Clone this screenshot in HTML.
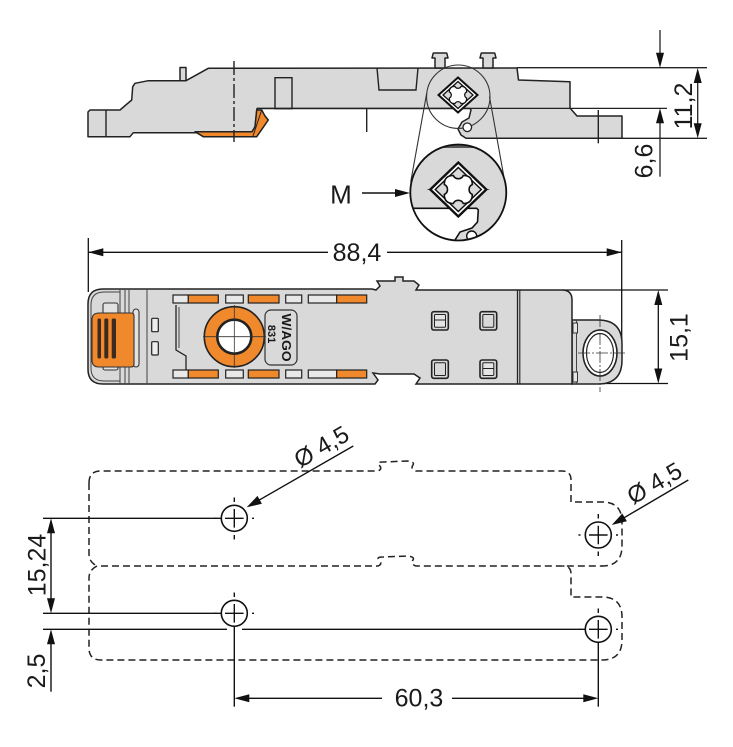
<!DOCTYPE html>
<html><head><meta charset="utf-8"><style>
html,body{margin:0;padding:0;background:#fff;}
svg{display:block;}
text{font-family:"Liberation Sans",Arial,sans-serif;fill:#1a1a1a;}
</style></head><body>
<svg width="733" height="747" viewBox="0 0 733 747" xmlns="http://www.w3.org/2000/svg">
<defs>
<clipPath id="bigc"><circle cx="458.3" cy="192.5" r="48"/></clipPath>
</defs>
<rect width="733" height="747" fill="#fff"/>

<!-- ============ SIDE VIEW ============ -->
<g stroke="#222" stroke-width="1.5" stroke-linejoin="round">
<rect x="180" y="67.5" width="6" height="14" fill="#d9d9d9"/>
<path d="M88,112 L90,110 L120,110 L131.7,100 L132.7,86.7 L135,83.3 L148.3,80.7 L186,80.7 L208.3,68.3 L517,68 L518.5,80 L570,81.7 L570,108 L577,116 L622,116 L622,138.3 L466,138.3 L461,135 L458,129 L462,122 L469,118 L471,110 L470,108.5 L257,108.5 L255,127 L252,132.7 L133.3,132.7 L130,136.7 L88,136.7 Z" fill="#d9d9d9"/>
<path d="M195,131.7 L203.3,136.7 L256.7,136.7 L268.3,120 L265,116 L261.7,110 L256.7,110 L255,126.7 L252,131.7 Z" fill="#f0882c"/>
<path d="M261.7,110 L253,136" fill="none" stroke-width="1"/>
<!-- pins -->
<path d="M432,58 L433,54 Q433,53 434,53 L446,53 Q447,53 447,54 L448,58 L445,58 L445,68 L435,68 L435,58 Z" fill="#d9d9d9"/>
<path d="M480,58 L481,54 Q481,53 482,53 L494,53 Q495,53 495,54 L496,58 L493,58 L493,68 L483,68 L483,58 Z" fill="#d9d9d9"/>
</g>
<g stroke="#222" stroke-width="1.4" fill="none">
<path d="M377,68 L379,90 L416,90 L418,68"/>
<rect x="275" y="77.7" width="17" height="31"/>
<line x1="106" y1="110" x2="106" y2="136.7"/>
<line x1="366.7" y1="108.5" x2="366.7" y2="132"/>
<line x1="598.3" y1="110" x2="598.3" y2="143.3"/>
<line x1="234" y1="61" x2="234" y2="142" stroke-dasharray="14 3 3 3"/>
<!-- extension lines -->
<line x1="517" y1="67.7" x2="707" y2="67.7" stroke-width="1.3"/>
<line x1="622" y1="138.3" x2="707" y2="138.3" stroke-width="1.3"/>
<line x1="257" y1="108.4" x2="667" y2="108.4" stroke-width="1.3"/>
<!-- dims -->
<line x1="697.7" y1="75" x2="697.7" y2="131" stroke-width="1.3"/>
<line x1="660" y1="30" x2="660" y2="55" stroke-width="1.3"/>
<line x1="660" y1="120" x2="660" y2="176.7" stroke-width="1.3"/>
</g>
<g fill="#111">
<polygon points="697.7,68 693.7,83 701.7,83"/>
<polygon points="697.7,138.3 693.7,123.3 701.7,123.3"/>
<polygon points="660,67.7 656,52.7 664,52.7"/>
<polygon points="660,108.3 656,123.3 664,123.3"/>
</g>
<text transform="translate(683,106) rotate(-90)" y="9" font-size="25" text-anchor="middle">11,2</text>
<text transform="translate(643.3,161) rotate(-90)" y="9" font-size="25" text-anchor="middle">6,6</text>

<!-- small detail circle -->
<circle cx="458.3" cy="96.7" r="31.7" fill="none" stroke="#333" stroke-width="1.1"/>
<g transform="translate(458,95)">
<polygon points="-19.5,0 0,-17.5 19.5,0 0,17.5" fill="#fff" stroke="#111" stroke-width="2"/>
<polygon points="-15,0 0,-13.5 15,0 0,13.5" fill="#d9d9d9" stroke="#111" stroke-width="1.3"/>
<path transform="scale(0.62)" d="M-5,-14 A5.5,5.5 0 0 0 5,-14 Q14,-14 14,-5 A5.5,5.5 0 0 0 14,5 Q14,14 5,14 A5.5,5.5 0 0 0 -5,14 Q-14,14 -14,5 A5.5,5.5 0 0 0 -14,-5 Q-14,-14 -5,-14 Z" fill="#fff" stroke="#111" stroke-width="2"/>
</g>
<circle cx="467.3" cy="127.3" r="4.3" fill="#fff" stroke="#222" stroke-width="1.3"/>
<!-- tangent lines -->
<line x1="426.7" y1="93.3" x2="410.7" y2="182" stroke="#333" stroke-width="1.1"/>
<line x1="489.5" y1="96.7" x2="505" y2="183" stroke="#333" stroke-width="1.1"/>

<!-- big detail circle -->
<circle cx="458.3" cy="192.5" r="48" fill="#fff"/>
<g clip-path="url(#bigc)">
<path d="M405,140 L512,140 L512,245 L452,245 L455,240 L460,232 L472,228 L477.5,222 L478.3,210 L476.7,208.3 L405,208.3 Z" fill="#d9d9d9"/>
<line x1="438" y1="146.5" x2="477" y2="146.5" stroke="#555" stroke-width="3"/>
<path d="M405,208.3 L476.7,208.3 L478.3,210 L477.5,222 L472,228 L460,232 L455,240 L452,246" fill="none" stroke="#111" stroke-width="1.6"/>
<circle cx="471.7" cy="236" r="5" fill="#fff" stroke="#111" stroke-width="1.4"/>
</g>
<circle cx="458.3" cy="192.5" r="48" fill="none" stroke="#111" stroke-width="1.8"/>
<g transform="translate(458.3,189.5)">
<line x1="-31" y1="0" x2="31" y2="0" stroke="#333" stroke-width="0.8"/>
<polygon points="-28,0 0,-27 28,0 0,27" fill="#fff" stroke="#111" stroke-width="2.4"/>
<polygon points="-23,0 0,-22 23,0 0,22" fill="#d9d9d9" stroke="#111" stroke-width="1.5"/>
<path d="M-5,-14 A5.5,5.5 0 0 0 5,-14 Q14,-14 14,-5 A5.5,5.5 0 0 0 14,5 Q14,14 5,14 A5.5,5.5 0 0 0 -5,14 Q-14,14 -14,5 A5.5,5.5 0 0 0 -14,-5 Q-14,-14 -5,-14 Z" fill="#fff" stroke="#111" stroke-width="1.6"/>
</g>
<!-- M arrow -->
<text x="341" y="203.3" font-size="26" text-anchor="middle">M</text>
<line x1="362" y1="193" x2="397" y2="193" stroke="#111" stroke-width="1.5"/>
<polygon points="410,193 395,189 395,197" fill="#111"/>

<!-- ============ TOP VIEW ============ -->
<g stroke="#111" stroke-width="1.3" fill="none">
<line x1="88.3" y1="238" x2="88.3" y2="292"/>
<line x1="621.7" y1="240" x2="621.7" y2="345"/>
<line x1="88.3" y1="252.3" x2="328" y2="252.3"/>
<line x1="387" y1="252.3" x2="621.7" y2="252.3"/>
<line x1="562" y1="290" x2="668" y2="290"/>
<line x1="600" y1="383.5" x2="668" y2="383.5"/>
<line x1="658.3" y1="300" x2="658.3" y2="374"/>
</g>
<g fill="#111">
<polygon points="88.3,252.3 103.3,248.3 103.3,256.3"/>
<polygon points="621.7,252.3 606.7,248.3 606.7,256.3"/>
<polygon points="658.3,290 654.3,305 662.3,305"/>
<polygon points="658.3,383.5 654.3,368.5 662.3,368.5"/>
</g>
<text x="357" y="261" font-size="25" text-anchor="middle">88,4</text>
<text transform="translate(678.3,337.5) rotate(-90)" y="9" font-size="25" text-anchor="middle">15,1</text>

<!-- tab -->
<path d="M572,320 L598,320 Q622,320 622,344 L622,360 Q622,384 598,384 L572,384 Z" fill="#d9d9d9" stroke="#222" stroke-width="1.5"/>
<line x1="576.5" y1="320" x2="576.5" y2="384" stroke="#444" stroke-width="1"/>
<rect x="573" y="323" width="4.5" height="10" fill="#e5e5e5" stroke="#333" stroke-width="1"/>
<rect x="573" y="372" width="4.5" height="10" fill="#e5e5e5" stroke="#333" stroke-width="1"/>
<ellipse cx="600" cy="353" rx="17" ry="23" fill="#fff" stroke="#222" stroke-width="1.6"/>
<ellipse cx="600" cy="353" rx="13.5" ry="19.5" fill="#fff" stroke="#222" stroke-width="1.2"/>
<line x1="600" y1="315" x2="600" y2="392" stroke="#333" stroke-width="0.8" stroke-dasharray="12 2 2 2"/>
<line x1="578" y1="353" x2="625" y2="353" stroke="#333" stroke-width="0.8" stroke-dasharray="12 2 2 2"/>

<!-- body -->
<path d="M103,289 L372,289 L376,290 L380,286 L377,281 L395,281 L395,277 L403,277 L403,281 L414,281 L419,285 L416,290 L562,290 Q572,290 572,300 L572,384 L416,384 L420,378 L414,374 L380,374 L373,373 L378,380 L375,384 L103,384 Q88,384 88,369 L88,304 Q88,289 103,289 Z" fill="#d9d9d9" stroke="#222" stroke-width="1.5"/>
<g stroke="#444" stroke-width="1" fill="none">
<path d="M120,292 L104,292 Q91,292 91,305 L91,368 Q91,381 104,381 L120,381"/>
<line x1="120" y1="289" x2="120" y2="384"/>
<line x1="125" y1="289" x2="125" y2="384"/>
<line x1="129" y1="289" x2="129" y2="384"/>
<line x1="147" y1="289" x2="147" y2="384"/>
<line x1="517.5" y1="290" x2="517.5" y2="384" stroke="#222" stroke-width="1.3"/>
<line x1="519.8" y1="290" x2="519.8" y2="384" stroke="#222" stroke-width="1.1"/>
<path d="M176,305 L176,350 L186,356 L186,372" stroke="#222" stroke-width="1.3"/>
<path d="M179,307 L179,348"/>
</g>
<!-- latch -->
<rect x="103" y="303" width="15" height="11" rx="2" fill="#e2e2e2" stroke="#333" stroke-width="1.1"/>
<rect x="103" y="359" width="15" height="11" rx="2" fill="#e2e2e2" stroke="#333" stroke-width="1.1"/>
<rect x="133" y="309" width="6" height="58" rx="3" fill="#e2e2e2" stroke="#333" stroke-width="1.1"/>
<path d="M99,313 L131,313 Q134,313 134,316 L134,364 Q134,367 131,367 L99,367 Q92,367 92,360 L92,320 Q92,313 99,313 Z" fill="#f0882c" stroke="#333" stroke-width="1.1"/>
<g fill="#3b2a20">
<rect x="97.5" y="318.5" width="3.5" height="40" rx="1.5"/>
<rect x="104.3" y="318.5" width="4" height="40" rx="1.5"/>
<rect x="111.7" y="318.5" width="4.3" height="40" rx="1.5"/>
</g>
<rect x="151.7" y="318.3" width="6.6" height="13.4" rx="1" fill="#eee" stroke="#222" stroke-width="1.2"/>
<rect x="151.7" y="341.7" width="6.6" height="13.3" rx="1" fill="#eee" stroke="#222" stroke-width="1.2"/>

<!-- slots -->
<g stroke="#222" stroke-width="1.2">
<rect x="173" y="295" width="15.3" height="8" fill="#e8e8e8"/>
<rect x="188.3" y="295" width="30" height="8" fill="#f0882c"/>
<rect x="225.7" y="295" width="17.6" height="8" fill="#e8e8e8"/>
<rect x="248.3" y="295" width="30.7" height="8" fill="#f0882c"/>
<rect x="285.7" y="295" width="16" height="8" fill="#e8e8e8"/>
<rect x="308.3" y="295" width="28.4" height="8" fill="#e8e8e8"/>
<rect x="336.7" y="295" width="30" height="8" fill="#f0882c"/>
<rect x="173" y="370" width="15.3" height="8" fill="#e8e8e8"/>
<rect x="188.3" y="370" width="30" height="8" fill="#f0882c"/>
<rect x="225.7" y="370" width="17.6" height="8" fill="#e8e8e8"/>
<rect x="248.3" y="370" width="30.7" height="8" fill="#f0882c"/>
<rect x="285.7" y="370" width="16" height="8" fill="#e8e8e8"/>
<rect x="308.3" y="370" width="28.4" height="8" fill="#e8e8e8"/>
<rect x="336.7" y="370" width="30" height="8" fill="#f0882c"/>
</g>
<!-- ring -->
<circle cx="234.3" cy="336.7" r="30" fill="#f0882c" stroke="#222" stroke-width="1.6"/>
<circle cx="234.3" cy="336.7" r="17" fill="#fff" stroke="#222" stroke-width="2.6"/>
<line x1="203" y1="336.7" x2="266" y2="336.7" stroke="#333" stroke-width="0.8"/>
<line x1="234.3" y1="305" x2="234.3" y2="368" stroke="#333" stroke-width="0.8"/>
<!-- WAGO logo -->
<rect x="265" y="310" width="32" height="55" rx="6" fill="none" stroke="#333" stroke-width="1.2"/>
<text transform="translate(287,337.5) rotate(90)" y="5" font-size="13" font-weight="bold" text-anchor="middle" textLength="48" lengthAdjust="spacingAndGlyphs">W/AGO</text>
<text transform="translate(272,334) rotate(90)" y="4" font-size="11" font-weight="bold" text-anchor="middle">831</text>
<!-- square holes -->
<g stroke="#222" fill="#d9d9d9">
<rect x="431.7" y="311.7" width="16.6" height="18.3" rx="2" stroke-width="1.6"/>
<rect x="434.5" y="314.5" width="11" height="12.7" rx="1" stroke-width="1" fill="#e4e4e4"/>
<line x1="434.5" y1="320" x2="445.5" y2="320" stroke-width="1"/>
<rect x="480" y="311.7" width="16.7" height="18.3" rx="2" stroke-width="1.6"/>
<rect x="482.8" y="314.5" width="11" height="12.7" rx="1" stroke-width="1" fill="#d9d9d9"/>
<rect x="431.7" y="360" width="16.6" height="18.3" rx="2" stroke-width="1.6"/>
<rect x="434.5" y="362.8" width="11" height="12.7" rx="1" stroke-width="1" fill="#d9d9d9"/>
<rect x="480" y="360" width="16.7" height="18.3" rx="2" stroke-width="1.6"/>
<rect x="482.8" y="362.8" width="11" height="12.7" rx="1" stroke-width="1" fill="#e4e4e4"/>
<line x1="482.8" y1="368.5" x2="493.8" y2="368.5" stroke-width="1"/>
</g>

<!-- ============ FOOTPRINT ============ -->
<g stroke="#222" stroke-width="1.5" fill="none" stroke-dasharray="7 4">
<path d="M89,483 Q89,471 101,471 L378,471 Q383,469 379,465 Q376,462 383,462 L408,461 Q415,462 413,465 Q410,469 416,471 L562,471 Q571,471 571,480 L571,502 L602,502 Q622,502 622,522 L622,546 Q622,566 602,566"/>
<path d="M89,483 L89,554 Q89,562 97,566"/>
<path d="M101,566 L378,566 Q383,564 379,560 Q376,557 383,557 L408,556 Q415,557 413,560 Q410,564 416,566 L603,566"/>
<path d="M97,566 Q89,570 89,578 L89,648 Q89,660 101,660 L602,660 Q622,660 622,640 L622,617 Q622,597 602,597 L571,597 L571,574 Q571,566 563,566"/>
</g>
<!-- holes -->
<g stroke="#111" fill="none">
<circle cx="234.3" cy="518.3" r="13" stroke-width="1.6"/>
<circle cx="234.3" cy="613.3" r="13" stroke-width="1.6"/>
<circle cx="598.3" cy="535" r="13" stroke-width="1.6"/>
<circle cx="598.3" cy="629.3" r="13" stroke-width="1.6"/>
<path d="M225,518.3 H243.6 M234.3,509 V527.6 M234.3,497.5 V502 M234.3,535 V539.5 M252,518.3 H254 M214.5,518.3 H216.5" stroke-width="1.4"/>
<path d="M225,613.3 H243.6 M234.3,604 V622.6 M234.3,592.5 V597 M252,613.3 H254 M214.5,613.3 H216.5" stroke-width="1.4"/>
<path d="M589,535 H607.6 M598.3,525.7 V544.3 M598.3,514 V518.5 M598.3,551.5 V556 M616,535 H618 M578.5,535 H580.5" stroke-width="1.4"/>
<path d="M589,629.3 H607.6 M598.3,620 V638.6 M598.3,608.5 V613 M616,629.3 H618 M578.5,629.3 H580.5" stroke-width="1.4"/>
</g>
<!-- dimension lines -->
<g stroke="#111" stroke-width="1.4" fill="none">
<line x1="43" y1="518.3" x2="221" y2="518.3"/>
<line x1="43" y1="613.3" x2="221" y2="613.3"/>
<line x1="43" y1="629.3" x2="227" y2="629.3"/>
<line x1="242" y1="629.3" x2="585" y2="629.3"/>
<line x1="51" y1="530" x2="51" y2="602"/>
<line x1="51" y1="640" x2="51" y2="691.7"/>
<line x1="234.3" y1="626" x2="234.3" y2="706.7"/>
<line x1="598.3" y1="642" x2="598.3" y2="706.7"/>
<line x1="245" y1="698.3" x2="382" y2="698.3"/>
<line x1="452" y1="698.3" x2="588" y2="698.3"/>
<line x1="353.3" y1="446" x2="259" y2="500.2"/>
<line x1="688.3" y1="480" x2="624" y2="517.8"/>
</g>
<g fill="#111">
<polygon points="51,518.3 47,533.3 55,533.3"/>
<polygon points="51,613.3 47,598.3 55,598.3"/>
<polygon points="51,629.3 47,644.3 55,644.3"/>
<polygon points="234.3,698.3 249.3,694.3 249.3,702.3"/>
<polygon points="598.3,698.3 583.3,694.3 583.3,702.3"/>
<polygon points="246.7,507.3 261.9,503.7 257.5,495.9"/>
<polygon points="611.7,525 626.9,521.3 622.3,513.5"/>
</g>
<text transform="translate(36.7,565) rotate(-90)" y="9" font-size="25" text-anchor="middle">15,24</text>
<text transform="translate(36,671) rotate(-90)" y="9" font-size="25" text-anchor="middle">2,5</text>
<text x="419" y="706.5" font-size="25" text-anchor="middle">60,3</text>
<text transform="translate(321,446) rotate(-30)" y="9" font-size="24" text-anchor="middle">Ø 4,5</text>
<text transform="translate(654,482.5) rotate(-30)" y="9" font-size="24" text-anchor="middle">Ø 4,5</text>
</svg>
</body></html>
